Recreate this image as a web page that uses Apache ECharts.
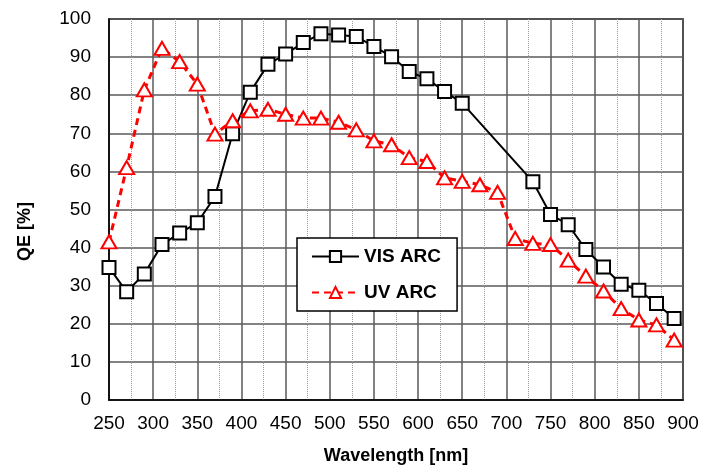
<!DOCTYPE html>
<html><head><meta charset="utf-8">
<script src="https://cdn.jsdelivr.net/npm/echarts@6/dist/echarts.min.js"></script>
<style>html,body{margin:0;padding:0;background:#fff}#c{width:703px;height:470px}</style>
</head><body><div id="c"></div>
<script>
const visWavelengths = [250,270,290,310,330,350,370,390,410,430,450,470,490,510,530,550,570,590,610,630,650,730,750,770,790,810,830,850,870,890];
const visQE = [34.8,28.4,33.1,40.8,43.8,46.5,53.4,69.9,80.8,88.1,90.8,93.8,96.1,95.8,95.4,92.8,90.1,86.2,84.3,81.0,77.9,57.3,48.7,46.0,39.5,34.9,30.4,28.8,25.3,21.4];
const uvWavelengths = [250,270,290,310,330,350,370,390,410,430,450,470,490,510,530,550,570,590,610,630,650,670,690,710,730,750,770,790,810,830,850,870,890];
const uvQE = [41.5,61.0,81.4,92.3,88.8,82.9,69.8,73.3,75.9,76.3,75.0,74.0,74.0,72.9,70.9,68.0,67.0,63.6,62.6,58.3,57.4,56.5,54.5,42.4,41.1,40.8,36.7,32.5,28.6,24.0,21.0,19.7,15.7];
const seriesNames = ['VIS ARC','UV ARC'];
const xTitle = 'Wavelength [nm]';
const yTitle = 'QE [%]';

const FONT = '"Liberation Sans", Arial, sans-serif';
const pair = (xs, ys) => xs.map((x, i) => [x, ys[i]]);

const chart = echarts.init(document.getElementById('c'), null, {renderer: 'canvas'});
chart.setOption({
  animation: false,
  backgroundColor: '#fff',
  grid: {left: 109, right: 20, top: 19, bottom: 70, show: true, borderColor: '#000', borderWidth: 1.5, backgroundColor: 'transparent'},
  xAxis: {
    type: 'value', min: 250, max: 900, interval: 50,
    name: xTitle, nameLocation: 'middle', nameGap: 47,
    nameTextStyle: {fontFamily: FONT, fontWeight: 'bold', fontSize: 18, color: '#000'},
    axisLine: {show: true, lineStyle: {color: '#000', width: 1.5}},
    axisTick: {show: false},
    minorTick: {show: false, splitNumber: 2},
    minorSplitLine: {show: true, lineStyle: {color: '#9a9a9a', type: 'dotted', width: 1}},
    axisLabel: {fontFamily: FONT, fontSize: 19, color: '#000', margin: 14},
    splitLine: {show: true, lineStyle: {color: '#5a5a5a', width: 1.5}}
  },
  yAxis: {
    type: 'value', min: 0, max: 100, interval: 10,
    name: yTitle, nameLocation: 'middle', nameGap: 75,
    nameTextStyle: {fontFamily: FONT, fontWeight: 'bold', fontSize: 18, color: '#000', padding: [0, 44, 0, 0]},
    axisLine: {show: true, lineStyle: {color: '#000', width: 1.5}},
    axisTick: {show: false},
    axisLabel: {fontFamily: FONT, fontSize: 19, color: '#000', margin: 18},
    splitLine: {show: true, lineStyle: {color: '#5a5a5a', width: 1.5}}
  },
  legend: {
    orient: 'vertical', left: 297, top: 238,
    padding: [9, 16, 9, 14], itemGap: 17, itemWidth: 47, itemHeight: 14,
    backgroundColor: '#fff', borderColor: '#000', borderWidth: 1.5,
    textStyle: {fontFamily: FONT, fontWeight: 'bold', fontSize: 19, color: '#000'},
    data: seriesNames
  },
  series: [
    {
      name: seriesNames[0], type: 'line', data: pair(visWavelengths, visQE),
      symbol: 'rect', symbolSize: 13,
      lineStyle: {color: '#000', width: 2},
      itemStyle: {color: '#fff', borderColor: '#000', borderWidth: 2},
      z: 3
    },
    {
      name: seriesNames[1], type: 'line', data: pair(uvWavelengths, uvQE),
      symbol: 'triangle', symbolSize: [15, 13],
      lineStyle: {color: '#ff0000', width: 3, type: [7, 5]},
      itemStyle: {color: '#fff', borderColor: '#ff0000', borderWidth: 2},
      z: 4
    }
  ]
});
</script></body></html>
